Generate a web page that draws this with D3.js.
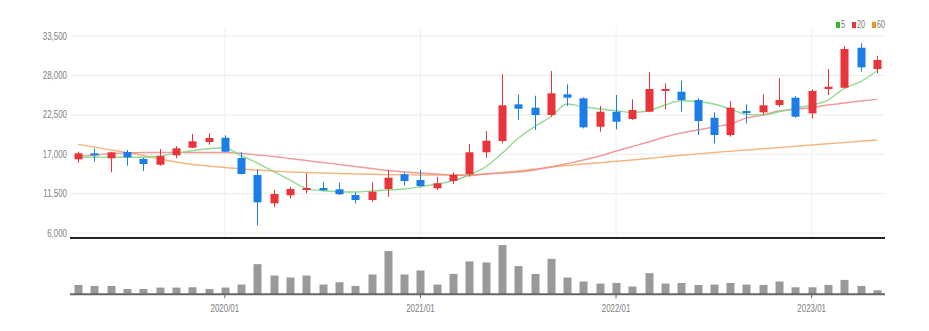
<!DOCTYPE html>
<html>
<head>
<meta charset="utf-8">
<script src="https://cdn.jsdelivr.net/npm/d3@7"></script>
<style>
  html, body { margin: 0; padding: 0; background: #fff; }
  svg { display: block; }
  text { font-family: "Liberation Sans Narrow", "Liberation Sans", "DejaVu Sans Condensed", sans-serif; }
</style>
</head>
<body>
<svg id="chart" width="929" height="331"></svg>
<script>
// ---- Data (monthly, 2019/04 .. 2023/05) ----
const months = ["2019/04","2019/05","2019/06","2019/07","2019/08","2019/09","2019/10","2019/11","2019/12",
  "2020/01","2020/02","2020/03","2020/04","2020/05","2020/06","2020/07","2020/08","2020/09","2020/10","2020/11","2020/12",
  "2021/01","2021/02","2021/03","2021/04","2021/05","2021/06","2021/07","2021/08","2021/09","2021/10","2021/11","2021/12",
  "2022/01","2022/02","2022/03","2022/04","2022/05","2022/06","2022/07","2022/08","2022/09","2022/10","2022/11","2022/12",
  "2023/01","2023/02","2023/03","2023/04","2023/05"];
const openP  = [16226,17064,16366,17246,16268,15472,16785,17847,18643,19244,16408,14033,10079,11197,11937,12217,12035,11239,10540,12077,14131,13334,12175,13195,14131,17204,18783,23910,23435,22415,25307,24748,20780,22876,21856,22876,25768,25670,24510,22038,19621,22974,22792,23812,24832,22652,26047,26229,31817,28841];
const highP  = [17288,17707,17288,17525,16450,17665,18084,19760,19858,19579,17204,14829,11937,12398,14270,13055,12957,11616,13013,14731,14354,14731,13795,14410,18363,20180,28101,25251,25111,28562,26704,24888,23672,25209,24608,28380,26843,27206,24748,22792,24371,23910,25307,27542,25069,26005,28841,32096,32431,30699];
const lowP   = [15751,15891,14410,15332,14592,15332,16366,17800,18266,17204,14100,7006,9520,10778,11476,11798,11239,10079,10303,11001,12594,12398,11937,12775,13795,16450,18461,21716,20319,22177,23672,20557,20082,20417,21716,22800,23211,22876,19621,18461,19383,21255,22415,23574,22038,21954,25209,26145,28464,28240];
const closeP = [17064,16785,17204,16505,15569,16687,17763,18741,19202,17288,14172,10219,11378,12077,12217,11895,11337,10540,11700,13656,13195,12496,12873,14033,17204,18824,23770,23295,22415,25446,24832,20696,22876,21479,23113,26047,26047,24510,21577,19621,23435,22694,23770,24510,22177,25768,26368,31635,29078,30098];
const volume = [93,83,83,53,53,67,67,70,53,67,97,300,187,167,187,97,120,83,197,430,197,237,97,203,327,317,490,280,203,353,167,127,107,113,77,210,107,113,93,97,113,97,93,127,70,70,93,143,83,40];
const ma5  = [16505,16547,16505,16505,16505,16687,17064,17427,17707,17847,16729,15709,14494,13334,12175,11839,11700,11658,11798,11937,12077,12398,12775,13236,14033,15192,17064,19160,20780,22177,23951,23574,23253,23015,22792,23015,23812,24412,24273,23951,23253,22513,22415,22876,23351,23812,24510,26145,27067,28562];
const ma20 = [16617,16827,17036,17106,17176,17176,17176,17176,17176,17176,17064,16827,16617,16338,16058,15779,15500,15220,14941,14661,14452,14312,14172,14033,13963,14172,14312,14452,14731,15150,15639,16128,16687,17386,18014,18643,19341,19900,20319,20738,21157,21996,22415,22974,23183,23463,23812,24091,24371,24608];
const ma60 = [18322,17944,17525,17176,16757,16268,15849,15500,15290,15081,14871,14731,14592,14452,14382,14312,14242,14172,14131,14089,14061,14033,14033,14033,14033,14172,14382,14592,14871,15150,15360,15569,15751,15947,16128,16338,16589,16799,16994,17176,17344,17525,17693,17875,18042,18224,18405,18573,18755,18922];
const priceTicks = [6000, 11500, 17000, 22500, 28000, 33500];
const yearTicks = ["2020/01","2021/01","2022/01","2023/01"];
const legendItems = [{label:"5", color:"#2db82d"}, {label:"20", color:"#e8343a"}, {label:"60", color:"#f0932b"}];

// ---- Layout ----
const svg = d3.select("#chart");
const left = 70, right = 885;
const mainTop = 35.7, mainBottom = 232.5;
const volTop = 238, volBottom = 294.3;
const UP = "#e8343a", DOWN = "#1b7de6";
const SQUEEZE = 0.72;

const x = d3.scaleBand().domain(months).range([left, right]).padding(0);
const cx = d => x(d) + x.bandwidth() / 2;
const y = d3.scaleLinear().domain([6000, 33500]).range([mainBottom, mainTop]);
const yv = d3.scaleLinear().domain([0, 560]).range([volBottom, volTop]);

const data = months.map((m, i) => ({m, o: openP[i], h: highP[i], l: lowP[i], c: closeP[i], v: volume[i],
  ma5: ma5[i], ma20: ma20[i], ma60: ma60[i]}));

function squeeze(sel) {
  sel.each(function() {
    const len = this.getComputedTextLength();
    d3.select(this).attr("textLength", len * SQUEEZE).attr("lengthAdjust", "spacingAndGlyphs");
  });
}

// Horizontal grid + y labels
const yAxis = d3.axisLeft(y).tickValues(priceTicks).tickFormat(d3.format(",")).tickSize(-(right - left - 1)).tickPadding(4);
const gy = svg.append("g").attr("transform", `translate(${left + 1},0)`).call(yAxis);
gy.select(".domain").remove();
gy.selectAll(".tick line").attr("stroke", "#ececec");
gy.selectAll(".tick text").attr("fill", "#808080").attr("font-size", 11).call(squeeze);

// Vertical grid lines at year ticks (main panel)
const vGrid = d3.axisBottom(x).tickValues(yearTicks).tickFormat("").tickSize(-(volTop - 1 - 28));
const gv = svg.append("g").attr("transform", `translate(0,${volTop - 1})`).call(vGrid);
gv.select(".domain").remove();
gv.selectAll(".tick line").attr("stroke", "#efefef");

// Moving averages
const lineGen = key => d3.line().x(d => cx(d.m)).y(d => y(d[key])).curve(d3.curveMonotoneX);
svg.append("path").datum(data).attr("d", lineGen("ma60")).attr("fill", "none").attr("stroke", "#f3a96b").attr("stroke-width", 1.4).attr("opacity", 0.85);
svg.append("path").datum(data).attr("d", lineGen("ma20")).attr("fill", "none").attr("stroke", "#ef8a8a").attr("stroke-width", 1.4).attr("opacity", 0.85);
svg.append("path").datum(data).attr("d", lineGen("ma5")).attr("fill", "none").attr("stroke", "#86d886").attr("stroke-width", 1.4).attr("opacity", 0.9);

// Candles
const bw = 8;
const candles = svg.append("g").selectAll("g").data(data).join("g");
candles.append("line")
  .attr("x1", d => Math.round(cx(d.m)) + 0.5).attr("x2", d => Math.round(cx(d.m)) + 0.5)
  .attr("y1", d => y(d.h)).attr("y2", d => y(d.l))
  .attr("stroke", d => d.c >= d.o ? UP : DOWN).attr("stroke-width", 1);
candles.append("rect")
  .attr("x", d => Math.round(cx(d.m)) + 0.5 - bw / 2)
  .attr("y", d => y(Math.max(d.o, d.c)))
  .attr("width", bw)
  .attr("height", d => Math.max(1.5, Math.abs(y(d.o) - y(d.c))))
  .attr("fill", d => d.c >= d.o ? UP : DOWN);

// Separator line
svg.append("line").attr("x1", left).attr("x2", right).attr("y1", volTop).attr("y2", volTop)
  .attr("stroke", "#222").attr("stroke-width", 2);

// Volume bars
svg.append("g").selectAll("rect").data(data).join("rect")
  .attr("x", d => Math.round(cx(d.m)) + 0.5 - bw / 2)
  .attr("y", d => yv(d.v))
  .attr("width", bw)
  .attr("height", d => yv(0) - yv(d.v))
  .attr("fill", "#999");

// Volume x-axis
const xAxis = d3.axisBottom(x).tickValues(yearTicks).tickSize(4).tickPadding(6);
const gx = svg.append("g").attr("transform", `translate(0,${volBottom})`).call(xAxis);
gx.select(".domain").attr("stroke", "#666").attr("stroke-width", 2).attr("d", `M${left},0H${right}`);
gx.selectAll(".tick line").attr("stroke", "#666");
gx.selectAll(".tick text").attr("fill", "#808080").attr("font-size", 11).call(squeeze);

// Legend
const lg = svg.append("g").attr("transform", "translate(836,22)");
let lx = 0;
legendItems.forEach(it => {
  lg.append("rect").attr("x", lx).attr("y", 0).attr("width", 4).attr("height", 6).attr("fill", it.color);
  const t = lg.append("text").attr("x", lx + 5).attr("y", 6).attr("font-size", 10).attr("fill", "#777").text(it.label);
  const len = t.node().getComputedTextLength() * SQUEEZE;
  t.attr("textLength", len).attr("lengthAdjust", "spacingAndGlyphs");
  lx += 5 + len + 7;
});
</script>
</body>
</html>
